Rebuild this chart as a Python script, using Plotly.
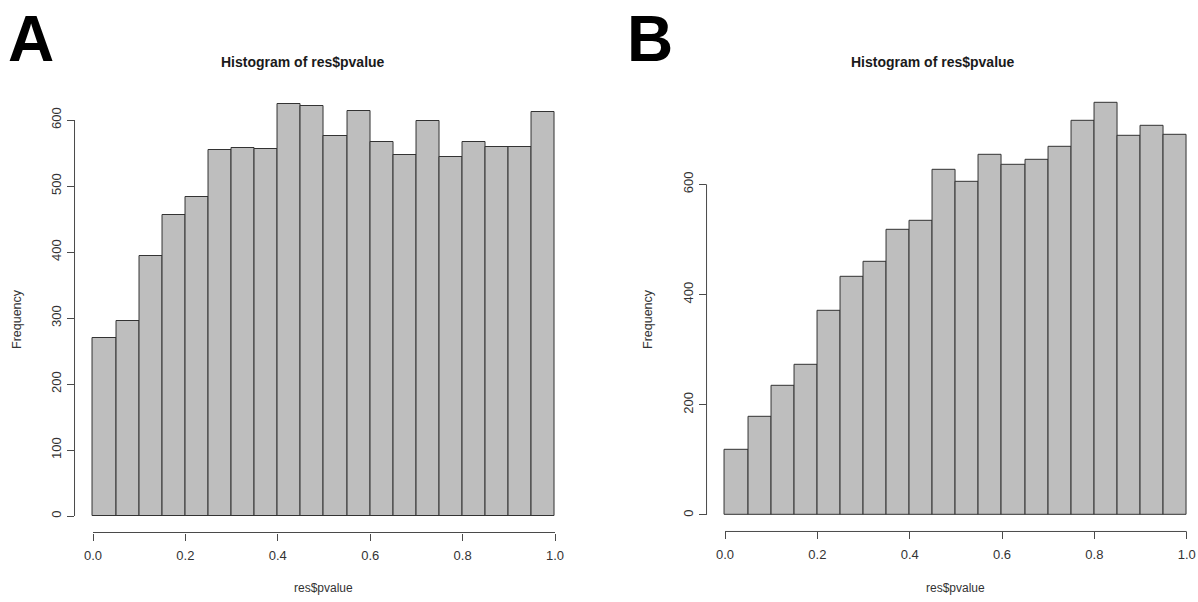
import plotly.graph_objects as go

# Histogram bins (left edges, width 0.05) and counts for the two panels
bin_start = [0.00, 0.05, 0.10, 0.15, 0.20, 0.25, 0.30, 0.35, 0.40, 0.45,
             0.50, 0.55, 0.60, 0.65, 0.70, 0.75, 0.80, 0.85, 0.90, 0.95]
bin_width = 0.05
counts_a = [270, 295, 394, 456, 483, 555, 557, 556, 625, 621,
            576, 613, 566, 547, 598, 544, 567, 559, 559, 612]
counts_b = [119, 179, 234, 273, 371, 432, 460, 518, 534, 626,
            605, 653, 635, 644, 668, 715, 747, 688, 706, 690]

x_ticks = [0.0, 0.2, 0.4, 0.6, 0.8, 1.0]
x_tick_labels = ["0.0", "0.2", "0.4", "0.6", "0.8", "1.0"]
y_ticks_a = [0, 100, 200, 300, 400, 500, 600]
y_ticks_b = [0, 200, 400, 600]
panel_letters = ["A", "B"]
main_title = "Histogram of res$pvalue"
x_label = "res$pvalue"
y_label = "Frequency"

W, H = 1198, 602
FONT = "Liberation Sans, Arial, sans-serif"
TEXT = "#333333"
AXIS = "#4a4a4a"


def px_x(p):
    return p / W


def px_y(p):
    return 1 - p / H


def panel(x0_px, x1_px, y0_px, y600_px, counts, right_limit=None):
    """Return axis domains/ranges so that value 0..1 maps to x0_px..x1_px
    and count 0..600 maps to y0_px..y600_px, with R-style 4% padding."""
    sx = x1_px - x0_px
    left = x0_px - 0.04 * sx
    right = x1_px + 0.04 * sx
    xr = [-0.04, 1.04]
    if right_limit is not None and right > right_limit:
        right = right_limit
        xr = [-0.04, (right_limit - x0_px) / sx]
    sy = (y0_px - y600_px) / 600.0
    ymax = max(counts)
    yr = [-0.04 * ymax, 1.04 * ymax]
    bottom = y0_px - yr[0] * sy
    top = y0_px - yr[1] * sy
    return dict(xdom=[px_x(left), px_x(right)], xr=xr,
                ydom=[px_y(bottom), px_y(top)], yr=yr)


pa = panel(93, 555, 516, 120, counts_a)
pb = panel(725, 1186.7, 515, 184.3, counts_b, right_limit=W)

fig = go.Figure()
centers = [s + bin_width / 2 for s in bin_start]
for counts, xa, ya in [(counts_a, "x", "y"), (counts_b, "x2", "y2")]:
    fig.add_trace(go.Bar(
        x=centers, y=counts, width=[bin_width] * len(counts),
        marker=dict(color="#bebebe", line=dict(color="#333333", width=1)),
        xaxis=xa, yaxis=ya, showlegend=False, hoverinfo="x+y",
    ))

common_x = dict(showgrid=False, zeroline=False, showline=False,
                ticks="outside", ticklen=7, tickwidth=1, tickcolor=AXIS,
                tickvals=x_ticks, ticktext=x_tick_labels,
                ticklabelstandoff=4,
                tickfont=dict(family=FONT, size=13, color=TEXT))
common_y = dict(showgrid=False, zeroline=False, showline=False,
                ticks="outside", ticklen=7, tickwidth=1, tickcolor=AXIS,
                tickangle=-90,
                tickfont=dict(family=FONT, size=13, color=TEXT))

fig.update_layout(
    width=W, height=H,
    margin=dict(l=0, r=0, t=0, b=0),
    paper_bgcolor="white", plot_bgcolor="white",
    bargap=0,
    xaxis=dict(domain=pa["xdom"], range=pa["xr"], anchor="y", **common_x),
    yaxis=dict(domain=pa["ydom"], range=pa["yr"], anchor="x",
               tickvals=y_ticks_a, **common_y),
    xaxis2=dict(domain=pb["xdom"], range=pb["xr"], anchor="y2", **common_x),
    yaxis2=dict(domain=pb["ydom"], range=pb["yr"], anchor="x2",
                tickvals=y_ticks_b, **common_y),
)

# Detached R-style axis lines spanning only the tick range
shapes = []
for xa, ya, yt in [("x", "y", y_ticks_a), ("x2", "y2", y_ticks_b)]:
    shapes.append(dict(type="line", xref=xa, yref=ya + " domain",
                       x0=x_ticks[0], x1=x_ticks[-1], y0=0, y1=0,
                       line=dict(color=AXIS, width=1)))
    shapes.append(dict(type="line", xref=xa + " domain", yref=ya,
                       x0=0, x1=0, y0=yt[0], y1=yt[-1],
                       line=dict(color=AXIS, width=1)))
fig.update_layout(shapes=shapes)

annotations = []
# Panel letters
for letter, xp in zip(panel_letters, [31, 650]):
    annotations.append(dict(text="<b>%s</b>" % letter, x=px_x(xp), y=px_y(39),
                            xref="paper", yref="paper", showarrow=False,
                            xanchor="center", yanchor="middle",
                            font=dict(family=FONT, size=64, color="black")))
# Titles and axis labels
for tx, xl, yl in [(303, 323, 17), (933, 955, 648)]:
    annotations.append(dict(text="<b>%s</b>" % main_title, x=px_x(tx), y=px_y(62),
                            xref="paper", yref="paper", showarrow=False,
                            xanchor="center", yanchor="middle",
                            font=dict(family=FONT, size=14, color="#1a1a1a")))
    annotations.append(dict(text=x_label, x=px_x(xl), y=px_y(588),
                            xref="paper", yref="paper", showarrow=False,
                            xanchor="center", yanchor="middle",
                            font=dict(family=FONT, size=12, color=TEXT)))
    annotations.append(dict(text=y_label, x=px_x(yl), y=px_y(319),
                            xref="paper", yref="paper", showarrow=False,
                            xanchor="center", yanchor="middle", textangle=-90,
                            font=dict(family=FONT, size=12.5, color=TEXT)))
fig.update_layout(annotations=annotations)

fig.write_html("out.html")
